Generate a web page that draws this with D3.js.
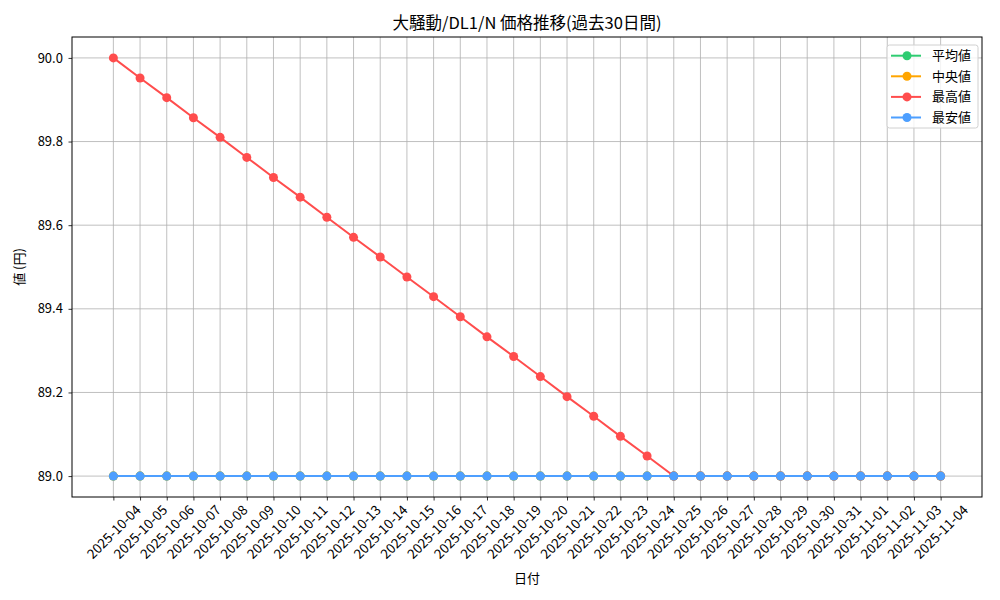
<!DOCTYPE html>
<html>
<head>
<meta charset="utf-8">
<script src="https://cdn.jsdelivr.net/npm/d3@7"></script>
<style>
  body { margin: 0; background: #fff; }
  text { font-family: "Noto Sans CJK JP", "DejaVu Sans", sans-serif; fill: #000; }
</style>
</head>
<body>
<div class="chart"></div>
<script>
// price chart, last 30 days
var dates = ["2025-10-04","2025-10-05","2025-10-06","2025-10-07","2025-10-08","2025-10-09","2025-10-10","2025-10-11",
  "2025-10-12","2025-10-13","2025-10-14","2025-10-15","2025-10-16","2025-10-17","2025-10-18","2025-10-19","2025-10-20",
  "2025-10-21","2025-10-22","2025-10-23","2025-10-24","2025-10-25","2025-10-26","2025-10-27","2025-10-28","2025-10-29",
  "2025-10-30","2025-10-31","2025-11-01","2025-11-02","2025-11-03","2025-11-04"];
var avgValues = [89.0,89.0,89.0,89.0,89.0,89.0,89.0,89.0,89.0,89.0,89.0,89.0,89.0,89.0,89.0,89.0,
  89.0,89.0,89.0,89.0,89.0,89.0,89.0,89.0,89.0,89.0,89.0,89.0,89.0,89.0,89.0,89.0];
var medianValues = [89.0,89.0,89.0,89.0,89.0,89.0,89.0,89.0,89.0,89.0,89.0,89.0,89.0,89.0,89.0,89.0,
  89.0,89.0,89.0,89.0,89.0,89.0,89.0,89.0,89.0,89.0,89.0,89.0,89.0,89.0,89.0,89.0];
var maxValues = [90.0,89.952,89.905,89.857,89.81,89.762,89.714,89.667,89.619,89.571,89.524,89.476,89.429,89.381,
  89.333,89.286,89.238,89.19,89.143,89.095,89.048,89.0,89.0,89.0,89.0,89.0,89.0,89.0,89.0,89.0,89.0,89.0];
var minValues = [89.0,89.0,89.0,89.0,89.0,89.0,89.0,89.0,89.0,89.0,89.0,89.0,89.0,89.0,89.0,89.0,
  89.0,89.0,89.0,89.0,89.0,89.0,89.0,89.0,89.0,89.0,89.0,89.0,89.0,89.0,89.0,89.0];
var seriesNames = ["平均値", "中央値", "最高値", "最安値"];
var seriesColors = ["#2ecc71", "#ffa500", "#ff4d4d", "#4d9fff"];
var yTicks = [89.0, 89.2, 89.4, 89.6, 89.8, 90.0];

var svgWidth = 1000, svgHeight = 600;
var margin = {top: 37, right: 18, bottom: 103, left: 72};
var width = svgWidth - margin.left - margin.right;
var height = svgHeight - margin.top - margin.bottom;

var svg = d3.select(".chart").append("svg").attr("width", svgWidth).attr("height", svgHeight);
var chartGroup = svg.append("g").attr("transform", `translate(${margin.left}, ${margin.top})`);

var n = dates.length;
// matplotlib style 5% padding
var xScale = d3.scaleLinear().domain([-(n - 1) * 0.05, (n - 1) * 1.05]).range([0, width]);
var yScale = d3.scaleLinear().domain([89.0 - 0.05, 90.0 + 0.05]).range([height, 0]);

// grid
chartGroup.append("g").selectAll("line").data(dates).enter().append("line")
  .attr("x1", (d, i) => xScale(i)).attr("x2", (d, i) => xScale(i))
  .attr("y1", 0).attr("y2", height).attr("stroke", "#b0b0b0").attr("stroke-width", 0.8);
chartGroup.append("g").selectAll("line").data(yTicks).enter().append("line")
  .attr("x1", 0).attr("x2", width)
  .attr("y1", d => yScale(d)).attr("y2", d => yScale(d)).attr("stroke", "#b0b0b0").attr("stroke-width", 0.8);

// axes
var bottomAxis = d3.axisBottom(xScale).tickValues(d3.range(n)).tickFormat(i => dates[i]).tickSizeOuter(0).tickSize(3.5);
var leftAxis = d3.axisLeft(yScale).tickValues(yTicks).tickFormat(d3.format(".1f")).tickSizeOuter(0).tickSize(3.5);
var xAxisG = chartGroup.append("g").attr("transform", `translate(0, ${height})`).call(bottomAxis);
xAxisG.select(".domain").remove();
// rotated 45deg, centred on the tick (like matplotlib ha=center)
xAxisG.selectAll("text").attr("font-size", "13.5px").attr("text-anchor", "middle")
  .attr("x", 0).attr("y", 0).attr("dy", "0.35em")
  .attr("transform", "translate(0, 35) rotate(-45)");
var yAxisG = chartGroup.append("g").call(leftAxis);
yAxisG.select(".domain").remove();
yAxisG.selectAll("text").attr("font-size", "13px").attr("dx", "-0.2em");
chartGroup.selectAll(".tick line").attr("stroke", "#000").attr("stroke-width", 0.8);

// lines
var allSeries = [avgValues, medianValues, maxValues, minValues];
var line = d3.line().x((d, i) => xScale(i)).y(d => yScale(d));
allSeries.forEach(function(vals, k) {
  chartGroup.append("path").datum(vals).attr("d", line)
    .attr("fill", "none").attr("stroke", seriesColors[k]).attr("stroke-width", 2);
  chartGroup.append("g").selectAll("circle").data(vals).enter().append("circle")
    .attr("cx", (d, i) => xScale(i)).attr("cy", d => yScale(d)).attr("r", 4.5)
    .attr("fill", seriesColors[k]);
});

// frame
chartGroup.append("rect").attr("width", width).attr("height", height)
  .attr("fill", "none").attr("stroke", "#000").attr("stroke-width", 1);

// legend
var legend = chartGroup.append("g").attr("transform", `translate(${width - 95}, 8)`);
legend.append("rect").attr("width", 91).attr("height", 83).attr("rx", 2.5)
  .attr("fill", "#fff").attr("fill-opacity", 0.8).attr("stroke", "#d0d0d0").attr("stroke-width", 1);
seriesNames.forEach(function(name, k) {
  var y = 10.7 + k * 20.6;
  legend.append("line").attr("x1", 4).attr("x2", 34).attr("y1", y).attr("y2", y)
    .attr("stroke", seriesColors[k]).attr("stroke-width", 2);
  legend.append("circle").attr("cx", 20).attr("cy", y).attr("r", 4.5).attr("fill", seriesColors[k]);
  legend.append("text").attr("x", 45).attr("y", y).attr("dy", "0.35em").attr("font-size", "13px").text(name);
});

// labels and title
svg.append("text").attr("x", margin.left + width / 2).attr("y", 29).attr("text-anchor", "middle")
  .attr("font-size", "16.5px").text("大騒動/DL1/N 価格推移(過去30日間)");
svg.append("text").attr("x", margin.left + width / 2).attr("y", 583).attr("text-anchor", "middle")
  .attr("font-size", "13px").text("日付");
svg.append("text").attr("transform", `translate(24, ${margin.top + height / 2}) rotate(-90)`)
  .attr("text-anchor", "middle").attr("font-size", "13px").text("値 (円)");
</script>
</body>
</html>
